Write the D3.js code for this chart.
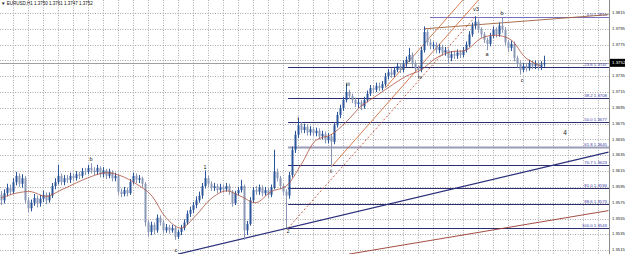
<!DOCTYPE html>
<html>
<head>
<meta charset="utf-8">
<script src="https://cdn.jsdelivr.net/npm/d3@7"></script>
<style>
  html, body { margin: 0; padding: 0; background: #fff; }
  svg { display: block; font-family: 'Liberation Sans', Arial, sans-serif; }
</style>
</head>
<body>
<svg width="625" height="254"></svg>
<script>
// EURUSD H1 candles (open = previous close)
const firstOpen = 1.3585
const closes = [
  1.3578, 1.3587, 1.3594, 1.3589, 1.3601, 1.3609, 1.3599, 1.3606, 1.3578, 1.3568,
  1.3575, 1.3581, 1.3574, 1.3580, 1.3585, 1.3578, 1.3584, 1.3596, 1.3601, 1.3609,
  1.3601, 1.3606, 1.3604, 1.3609, 1.3606, 1.3611, 1.3609, 1.3615, 1.3614, 1.3619,
  1.3616, 1.3614, 1.3619, 1.3611, 1.3616, 1.3609, 1.3614, 1.3606, 1.3609, 1.3589,
  1.3586, 1.3591, 1.3587, 1.3601, 1.3609, 1.3604, 1.3606, 1.3599, 1.3550, 1.3538,
  1.3547, 1.3540, 1.3556, 1.3550, 1.3540, 1.3544, 1.3540, 1.3543, 1.3532, 1.3538,
  1.3543, 1.3550, 1.3561, 1.3566, 1.3572, 1.3578, 1.3584, 1.3596, 1.3606, 1.3599,
  1.3594, 1.3596, 1.3591, 1.3595, 1.3592, 1.3596, 1.3589, 1.3574, 1.3587, 1.3591,
  1.3596, 1.3540, 1.3548, 1.3578, 1.3591, 1.3589, 1.3594, 1.3587, 1.3591, 1.3585,
  1.3594, 1.3614, 1.3606, 1.3596, 1.3589, 1.3584, 1.3610, 1.3642, 1.3661, 1.3673,
  1.3667, 1.3671, 1.3664, 1.3668, 1.3663, 1.3666, 1.3659, 1.3662, 1.3654, 1.3659,
  1.3652, 1.3673, 1.3686, 1.3695, 1.3705, 1.3715, 1.3710, 1.3705, 1.3700, 1.3702,
  1.3697, 1.3705, 1.3713, 1.3720, 1.3718, 1.3723, 1.3720, 1.3725, 1.3735, 1.3740,
  1.3737, 1.3743, 1.3748, 1.3743, 1.3751, 1.3756, 1.3762, 1.3751, 1.3745, 1.3743,
  1.3768, 1.3791, 1.3778, 1.3773, 1.3775, 1.3768, 1.3772, 1.3765, 1.3768, 1.3758,
  1.3763, 1.3761, 1.3765, 1.3762, 1.3768, 1.3775, 1.3788, 1.3799, 1.3804, 1.3794,
  1.3788, 1.3781, 1.3776, 1.3786, 1.3794, 1.3788, 1.3799, 1.3794, 1.3778, 1.3771,
  1.3776, 1.3758, 1.3751, 1.3743, 1.3748, 1.3745, 1.3752, 1.3748, 1.3751, 1.3747, 1.3750, 1.3752
]
const highs = [
  1.3590, 1.3592, 1.3599, 1.3598, 1.3606, 1.3614, 1.3612, 1.3611, 1.3609, 1.3582,
  1.3579, 1.3586, 1.3584, 1.3585, 1.3590, 1.3588, 1.3588, 1.3600, 1.3606, 1.3623,
  1.3612, 1.3610, 1.3610, 1.3613, 1.3612, 1.3615, 1.3614, 1.3619, 1.3619, 1.3623,
  1.3625, 1.3620, 1.3623, 1.3621, 1.3620, 1.3618, 1.3618, 1.3616, 1.3613, 1.3611,
  1.3593, 1.3595, 1.3594, 1.3605, 1.3613, 1.3612, 1.3610, 1.3608, 1.3601, 1.3553,
  1.3551, 1.3550, 1.3560, 1.3559, 1.3553, 1.3548, 1.3547, 1.3547, 1.3546, 1.3541,
  1.3547, 1.3554, 1.3565, 1.3570, 1.3576, 1.3583, 1.3589, 1.3600, 1.3616, 1.3609,
  1.3602, 1.3600, 1.3599, 1.3599, 1.3598, 1.3600, 1.3599, 1.3591, 1.3590, 1.3595,
  1.3604, 1.3598, 1.3552, 1.3582, 1.3595, 1.3596, 1.3598, 1.3597, 1.3595, 1.3594,
  1.3598, 1.3642, 1.3618, 1.3609, 1.3599, 1.3592, 1.3614, 1.3646, 1.3666, 1.3682,
  1.3677, 1.3675, 1.3674, 1.3672, 1.3671, 1.3670, 1.3669, 1.3666, 1.3665, 1.3663,
  1.3662, 1.3677, 1.3690, 1.3699, 1.3709, 1.3726, 1.3718, 1.3713, 1.3708, 1.3706,
  1.3705, 1.3709, 1.3717, 1.3724, 1.3724, 1.3727, 1.3727, 1.3729, 1.3739, 1.3744,
  1.3745, 1.3747, 1.3752, 1.3751, 1.3755, 1.3760, 1.3771, 1.3765, 1.3754, 1.3749,
  1.3772, 1.3798, 1.3794, 1.3782, 1.3779, 1.3778, 1.3776, 1.3775, 1.3772, 1.3770,
  1.3767, 1.3767, 1.3769, 1.3768, 1.3772, 1.3779, 1.3792, 1.3803, 1.3811, 1.3807,
  1.3797, 1.3791, 1.3784, 1.3790, 1.3798, 1.3797, 1.3803, 1.3809, 1.3797, 1.3781,
  1.3780, 1.3779, 1.3761, 1.3754, 1.3752, 1.3752, 1.3756, 1.3755, 1.3755, 1.3754, 1.3754, 1.3761
]
const lows = [
  1.3572, 1.3574, 1.3583, 1.3585, 1.3586, 1.3597, 1.3595, 1.3594, 1.3574, 1.3563,
  1.3564, 1.3571, 1.3569, 1.3570, 1.3576, 1.3573, 1.3575, 1.3581, 1.3592, 1.3598,
  1.3597, 1.3597, 1.3600, 1.3600, 1.3602, 1.3603, 1.3605, 1.3606, 1.3610, 1.3611,
  1.3612, 1.3610, 1.3610, 1.3607, 1.3607, 1.3605, 1.3606, 1.3602, 1.3602, 1.3585,
  1.3582, 1.3583, 1.3583, 1.3585, 1.3598, 1.3600, 1.3600, 1.3595, 1.3545, 1.3532,
  1.3534, 1.3535, 1.3537, 1.3546, 1.3536, 1.3537, 1.3536, 1.3537, 1.3528, 1.3529,
  1.3534, 1.3540, 1.3547, 1.3557, 1.3562, 1.3568, 1.3575, 1.3580, 1.3593, 1.3595,
  1.3590, 1.3590, 1.3587, 1.3588, 1.3588, 1.3589, 1.3585, 1.3570, 1.3572, 1.3584,
  1.3588, 1.3528, 1.3534, 1.3546, 1.3575, 1.3585, 1.3585, 1.3583, 1.3584, 1.3581,
  1.3582, 1.3592, 1.3602, 1.3592, 1.3585, 1.3543, 1.3580, 1.3607, 1.3638, 1.3657,
  1.3663, 1.3663, 1.3660, 1.3660, 1.3659, 1.3659, 1.3655, 1.3655, 1.3650, 1.3650,
  1.3620, 1.3649, 1.3670, 1.3682, 1.3691, 1.3702, 1.3706, 1.3701, 1.3696, 1.3695,
  1.3692, 1.3694, 1.3702, 1.3710, 1.3714, 1.3715, 1.3716, 1.3717, 1.3722, 1.3731,
  1.3733, 1.3734, 1.3740, 1.3739, 1.3740, 1.3747, 1.3753, 1.3747, 1.3741, 1.3733,
  1.3740, 1.3765, 1.3774, 1.3769, 1.3769, 1.3764, 1.3764, 1.3761, 1.3761, 1.3751,
  1.3754, 1.3757, 1.3757, 1.3758, 1.3759, 1.3765, 1.3772, 1.3785, 1.3795, 1.3790,
  1.3784, 1.3777, 1.3768, 1.3773, 1.3783, 1.3784, 1.3785, 1.3790, 1.3774, 1.3766,
  1.3767, 1.3754, 1.3746, 1.3737, 1.3740, 1.3741, 1.3742, 1.3744, 1.3744, 1.3743, 1.3743, 1.3747
]

// moving average, read every 5th bar
const maBars = d3.range(0, 181, 5)
const maValues = [
  1.3581, 1.3587, 1.3589, 1.3583, 1.3591, 1.3600, 1.3608, 1.3613, 1.3609, 1.3599,
  1.3585, 1.3556, 1.3543, 1.3559, 1.3580, 1.3590, 1.3583, 1.3575, 1.3589, 1.3596,
  1.3623, 1.3654, 1.3661, 1.3677, 1.3697, 1.3710, 1.3723, 1.3735, 1.3743, 1.3758,
  1.3766, 1.3768, 1.3783, 1.3787, 1.3781, 1.3758, 1.3748
]

const yTicks = [1.3515, 1.3535, 1.3555, 1.3575, 1.3595, 1.3615, 1.3635, 1.3655, 1.3675,
  1.3695, 1.3715, 1.3735, 1.3755, 1.3775, 1.3795, 1.3815]

const fibLevels = ['0.0', '23.6', '38.2', '50.0', '61.8', '70.7', '81.0', '88.6', '100.0']
const fibPrices = [1.3810, 1.3747, 1.3708, 1.3677, 1.3645, 1.3623, 1.3594, 1.3573, 1.3543]
const fibStartBar = 95.7

// trendlines: [bar1, price1, bar2, price2]
const trendLines = [
  { name: 'support', color: '#2a2f7a', pts: [59, 1.3510, 202.5, 1.3639], dash: null },
  { name: 'lower', color: '#9a3a30', pts: [116, 1.3510, 202.5, 1.3565], dash: null },
  { name: 'top', color: '#a0603a', pts: [141, 1.3795, 202.5, 1.3813], dash: null },
  { name: 'fibBase', color: '#c0503a', pts: [95.7, 1.3543, 158, 1.3810], dash: '2,2' },
  { name: 'chanA', color: '#d07040', pts: [110, 1.3620, 160, 1.3835], dash: null },
  { name: 'chanB', color: '#d07040', pts: [128, 1.3720, 162, 1.3866], dash: null }
]

const waveText = ['b', 'c', '1', '2', 'i', 'ii', 'iii', 'iv', 'v3', 'a', 'b', 'c', '4']
const waveBars = [30, 58.3, 68, 95.7, 99, 110, 115.7, 139.7, 158.3, 162, 167, 173.7, 188]
const wavePrices = [1.3629, 1.3515, 1.3620, 1.3538, 1.3681, 1.3614, 1.3725, 1.3733, 1.3819, 1.3762, 1.3814, 1.3730, 1.3663]

const symbol = 'EURUSD,H1'
const ohlcText = '1.3750 1.3761 1.3747 1.3752'
const lastPrice = 1.3752

const svg = d3.select('svg')
const width = 625
const height = 254
const axisX = 609

const x = d3.scaleLinear().domain([0, 181]).range([1, 544])
const y = d3.scaleLinear().domain([1.3543, 1.3810]).range([228, 17])

const defs = svg.append('defs')
defs.append('clipPath').attr('id', 'plot')
    .append('rect').attr('x', 0).attr('y', 0).attr('width', axisX).attr('height', height)

svg.append('rect').attr('width', width).attr('height', height).attr('fill', '#fff')

const plot = svg.append('g').attr('clip-path', 'url(#plot)')

// grid
plot.append('g')
    .selectAll('line')
    .data(yTicks)
    .join('line')
    .attr('x1', 0).attr('x2', axisX)
    .attr('y1', d => Math.round(y(d)) + 0.5).attr('y2', d => Math.round(y(d)) + 0.5)
    .attr('stroke', '#a8a8a8').attr('stroke-width', 1).attr('stroke-dasharray', '1,1.5')

plot.append('g')
    .selectAll('line')
    .data(d3.range(4, 203, 5))
    .join('line')
    .attr('x1', d => Math.round(x(d)) + 0.5).attr('x2', d => Math.round(x(d)) + 0.5)
    .attr('y1', 0).attr('y2', height)
    .attr('stroke', '#a8a8a8').attr('stroke-width', 1).attr('stroke-dasharray', '1,1.5')

// current price line
plot.append('line')
    .attr('x1', 0).attr('x2', axisX)
    .attr('y1', Math.round(y(lastPrice)) + 0.5).attr('y2', Math.round(y(lastPrice)) + 0.5)
    .attr('stroke', '#a0a0a0').attr('stroke-width', 1)

// fibonacci levels
const fib = plot.append('g')
fib.selectAll('line')
    .data(fibPrices)
    .join('line')
    .attr('x1', (d, i) => i === 0 ? x(143) : x(fibStartBar)).attr('x2', axisX)
    .attr('y1', d => Math.round(y(d)) + 0.5).attr('y2', d => Math.round(y(d)) + 0.5)
    .attr('stroke', (d, i) => i === 0 ? '#7a70c0' : i === 4 ? '#9a9cb8' : '#2b2d6e')
    .attr('stroke-width', (d, i) => i === 4 ? 2 : 1)

fib.selectAll('text')
    .data(fibPrices)
    .join('text')
    .attr('x', axisX - 2)
    .attr('y', d => Math.round(y(d)) - 1)
    .attr('text-anchor', 'end')
    .attr('font-size', 4.3)
    .attr('fill', '#3a3aa8')
    .text((d, i) => `${fibLevels[i]} ${d.toFixed(4)}`)

// trendlines
plot.append('g')
    .selectAll('line')
    .data(trendLines)
    .join('line')
    .attr('x1', d => x(d.pts[0])).attr('y1', d => y(d.pts[1]))
    .attr('x2', d => x(d.pts[2])).attr('y2', d => y(d.pts[3]))
    .attr('stroke', d => d.color)
    .attr('stroke-width', d => d.name === 'support' ? 1.2 : 0.9)
    .attr('stroke-dasharray', d => d.dash)

// candles
const candles = closes.map((c, i) => ({
    i,
    o: i === 0 ? firstOpen : closes[i - 1],
    h: highs[i],
    l: lows[i],
    c,
}))

const cg = plot.append('g')
    .selectAll('g')
    .data(candles)
    .join('g')

cg.append('line')
    .attr('x1', d => Math.round(x(d.i)) + 0.5).attr('x2', d => Math.round(x(d.i)) + 0.5)
    .attr('y1', d => y(d.h)).attr('y2', d => y(d.l))
    .attr('stroke', d => d.c >= d.o ? '#2a559a' : '#8a98b6')
    .attr('stroke-width', 1)

cg.append('rect')
    .attr('x', d => Math.round(x(d.i)) - 0.5)
    .attr('width', 2)
    .attr('y', d => y(Math.max(d.o, d.c)))
    .attr('height', d => Math.max(1, Math.abs(y(d.o) - y(d.c))))
    .attr('fill', d => d.c >= d.o ? '#2a559a' : '#8a98b6')

// moving average
const maLine = d3.line()
    .x((d, i) => x(maBars[i]))
    .y(d => y(d))
    .curve(d3.curveCatmullRom)

plot.append('path')
    .datum(maValues)
    .attr('d', maLine)
    .attr('fill', 'none')
    .attr('stroke', '#b0503c')
    .attr('stroke-width', 0.8)

// wave labels
plot.append('g')
    .selectAll('text')
    .data(waveText)
    .join('text')
    .attr('x', (d, i) => x(waveBars[i]))
    .attr('y', (d, i) => y(wavePrices[i]))
    .attr('text-anchor', 'middle')
    .attr('dominant-baseline', 'middle')
    .attr('font-size', d => d === '4' ? 6.5 : 5.5)
    .attr('fill', '#222')
    .text(d => d)

// price axis
svg.append('line')
    .attr('x1', axisX + 0.5).attr('x2', axisX + 0.5)
    .attr('y1', 0).attr('y2', height)
    .attr('stroke', '#8a8a8a')

svg.append('g')
    .selectAll('text')
    .data(yTicks.filter(d => Math.abs(y(d) - y(lastPrice)) > 5))
    .join('text')
    .attr('x', axisX + 3)
    .attr('y', d => y(d))
    .attr('dominant-baseline', 'middle')
    .attr('font-size', 4.2)
    .attr('fill', '#222')
    .text(d => d.toFixed(4))

svg.append('rect')
    .attr('x', axisX + 1).attr('y', y(lastPrice) - 4)
    .attr('width', width - axisX).attr('height', 8)
    .attr('fill', '#000')

svg.append('text')
    .attr('x', axisX + 3).attr('y', y(lastPrice))
    .attr('dominant-baseline', 'middle')
    .attr('font-size', 4.4)
    .attr('fill', '#fff')
    .text(lastPrice.toFixed(4))

// header
svg.append('text')
    .attr('x', 1).attr('y', 5)
    .attr('font-size', 4.5)
    .attr('fill', '#111')
    .text(`\u25BC ${symbol} ${ohlcText}`)
</script>
</body>
</html>
